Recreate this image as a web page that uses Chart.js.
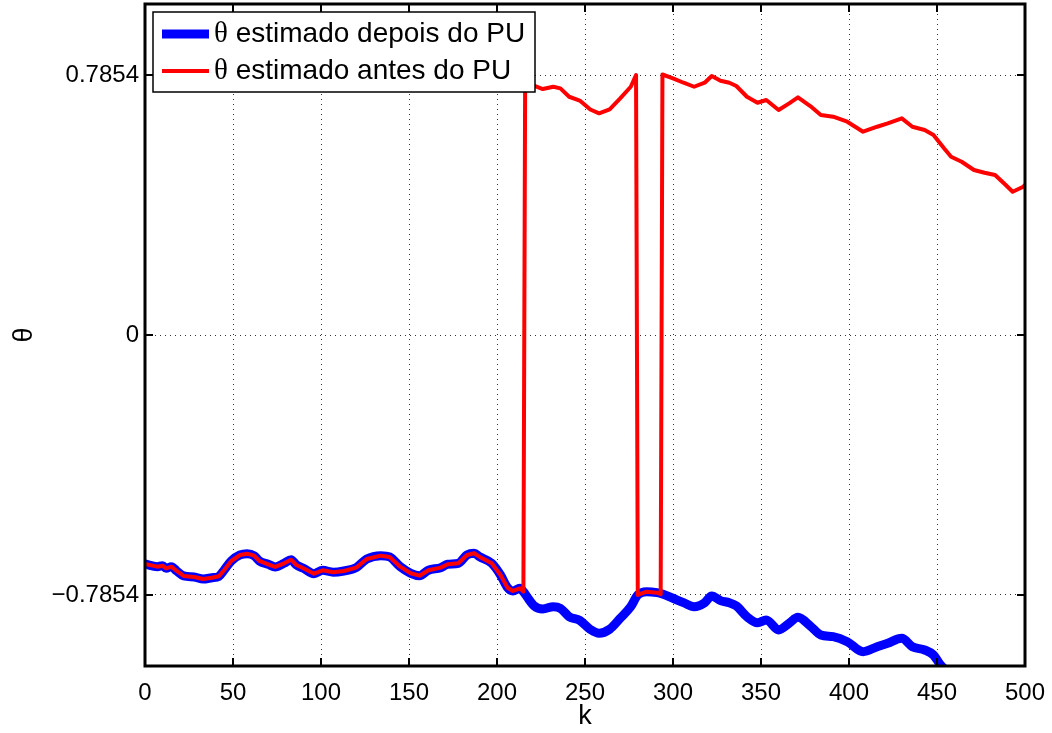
<!DOCTYPE html>
<html>
<head>
<meta charset="utf-8">
<script src="https://cdn.jsdelivr.net/npm/chart.js@4.4.0/dist/chart.umd.min.js"></script>
<style>
  html, body { margin: 0; padding: 0; background: #fff; }
  #wrap { width: 1052px; height: 733px; }
</style>
</head>
<body>
<div id="wrap"><canvas id="thetaChart" width="1052" height="733"></canvas></div>
<script>
    // Данные
    const kDepois = [0, 7, 10, 12, 15, 18, 22, 28, 33, 38, 42, 45, 49, 54, 58, 62, 65, 70, 74, 79,
        83, 86, 90, 96, 101, 107, 113, 120, 126, 134, 139, 145, 151, 156, 161, 168, 172, 178, 183, 187,
        190, 197, 202, 206, 209, 213, 215, 217, 221, 226, 232, 236, 241, 247, 253, 258, 264, 270, 276, 280,
        285, 291, 294, 300, 306, 312, 318, 322, 327, 332, 336, 342, 348, 353, 360, 366, 371, 378, 384, 391,
        399, 408, 416, 422, 430, 436, 443, 448, 452, 456];
    const thetaDepois = [-0.6918, -0.6999, -0.6969, -0.7048, -0.6999, -0.7129, -0.7280, -0.7310, -0.7371, -0.7332,
        -0.7289, -0.7099, -0.6827, -0.6646, -0.6607, -0.6667, -0.6827, -0.6927, -0.7008, -0.6897,
        -0.6788, -0.6948, -0.7048, -0.7211, -0.7108, -0.7168, -0.7129, -0.7029, -0.6767, -0.6667,
        -0.6706, -0.6999, -0.7199, -0.7271, -0.7108, -0.7029, -0.6927, -0.6897, -0.6646, -0.6594,
        -0.6697, -0.6897, -0.7250, -0.7634, -0.7733, -0.7652, -0.7754, -0.7905, -0.8177, -0.8277,
        -0.8208, -0.8256, -0.8510, -0.8624, -0.8896, -0.9011, -0.8890, -0.8558, -0.8208, -0.7854,
        -0.7754, -0.7785, -0.7824, -0.7954, -0.8087, -0.8208, -0.8087, -0.7884, -0.8026, -0.8087,
        -0.8186, -0.8510, -0.8691, -0.8609, -0.8911, -0.8709, -0.8528, -0.8791, -0.9062, -0.9114,
        -0.9265, -0.9567, -0.9416, -0.9313, -0.9162, -0.9416, -0.9516, -0.9667, -0.9969, -1.0180];

    const kAntes = [0, 7, 10, 12, 15, 18, 22, 28, 33, 38, 42, 45, 49, 54, 58, 62, 65, 70, 74, 79,
        83, 86, 90, 96, 101, 107, 113, 120, 126, 134, 139, 145, 151, 156, 161, 168, 172, 178, 183, 187,
        190, 197, 202, 206, 209, 213, 215, 216, 221, 226, 232, 236, 241, 247, 253, 258, 264, 270, 276, 279,
        280, 285, 291, 293, 294, 300, 306, 312, 318, 322, 327, 332, 336, 342, 348, 353, 360, 366, 371, 378,
        384, 391, 399, 408, 416, 422, 430, 436, 443, 448, 454, 458, 464, 471, 477, 483, 488, 493, 499, 500];
    const thetaAntes = [-0.6918, -0.6999, -0.6969, -0.7048, -0.6999, -0.7129, -0.7280, -0.7310, -0.7371, -0.7332,
        -0.7289, -0.7099, -0.6827, -0.6646, -0.6607, -0.6667, -0.6827, -0.6927, -0.7008, -0.6897,
        -0.6788, -0.6948, -0.7048, -0.7211, -0.7108, -0.7168, -0.7129, -0.7029, -0.6767, -0.6667,
        -0.6706, -0.6999, -0.7199, -0.7271, -0.7108, -0.7029, -0.6927, -0.6897, -0.6646, -0.6594,
        -0.6697, -0.6897, -0.7250, -0.7634, -0.7733, -0.7652, -0.7754, 0.7803, 0.7531, 0.7431,
        0.7500, 0.7452, 0.7198, 0.7084, 0.6812, 0.6697, 0.6818, 0.7150, 0.7500, 0.7854,
        -0.7854, -0.7754, -0.7785, -0.7830, 0.7870, 0.7754, 0.7621, 0.7500, 0.7621, 0.7824,
        0.7682, 0.7621, 0.7522, 0.7198, 0.7017, 0.7099, 0.6797, 0.6999, 0.7180, 0.6917,
        0.6646, 0.6594, 0.6443, 0.6141, 0.6292, 0.6395, 0.6546, 0.6292, 0.6192, 0.6041,
        0.5640, 0.5386, 0.5235, 0.4984, 0.4903, 0.4833, 0.4583, 0.4329, 0.4480, 0.4531];

    const xTickValues = [0, 50, 100, 150, 200, 250, 300, 350, 400, 450, 500];
    const yTickValues = [-0.7854, 0, 0.7854];
    const yTickLabels = ['\u22120.7854', '0', '0.7854'];

    const fontFamily = '"Liberation Sans", Arial, Helvetica, sans-serif';

    function toPoints(ks, vals) {
        return ks.map((k, i) => ({ x: k, y: vals[i] }));
    }

    // Рамка в стиле MATLAB, засечки внутрь и легенда внутри области графика
    const matlabBox = {
        id: 'matlabBox',
        afterDraw(chart) {
            const { ctx, chartArea: a, scales } = chart;
            ctx.save();
            ctx.strokeStyle = '#000';
            ctx.lineWidth = 2;
            ctx.beginPath();
            scales.x.ticks.forEach(t => {
                const px = scales.x.getPixelForValue(t.value);
                ctx.moveTo(px, a.bottom); ctx.lineTo(px, a.bottom - 8);
                ctx.moveTo(px, a.top); ctx.lineTo(px, a.top + 8);
            });
            scales.y.ticks.forEach(t => {
                const py = scales.y.getPixelForValue(t.value);
                ctx.moveTo(a.left, py); ctx.lineTo(a.left + 8, py);
                ctx.moveTo(a.right, py); ctx.lineTo(a.right - 8, py);
            });
            ctx.stroke();
            ctx.lineWidth = 3;
            ctx.strokeRect(a.left, a.top, a.right - a.left, a.bottom - a.top);

            // легенда
            const lx = a.left + 8, ly = a.top + 8, lw = 382, lh = 80;
            ctx.fillStyle = '#fff';
            ctx.fillRect(lx, ly, lw, lh);
            ctx.lineWidth = 1.5;
            ctx.strokeRect(lx, ly, lw, lh);
            chart.data.datasets.forEach((ds, i) => {
                const cy = ly + 22 + i * 37;
                ctx.strokeStyle = ds.borderColor;
                ctx.lineWidth = ds.borderWidth;
                ctx.beginPath();
                ctx.moveTo(lx + 9, cy);
                ctx.lineTo(lx + 56, cy);
                ctx.stroke();
                ctx.fillStyle = '#000';
                ctx.textBaseline = 'middle';
                ctx.textAlign = 'left';
                ctx.font = '29px "Liberation Serif", serif';
                const th = ds.label.charAt(0);
                ctx.fillText(th, lx + 61, cy);
                const tw = ctx.measureText(th).width;
                ctx.font = '28px ' + fontFamily;
                ctx.fillText(ds.label.slice(1), lx + 61 + tw, cy);
            });
            ctx.restore();
        }
    };

    const thetaChart = new Chart(document.getElementById('thetaChart'), {
        type: 'line',
        data: {
            datasets: [{
                label: 'θ estimado depois do PU',
                data: toPoints(kDepois, thetaDepois),
                borderColor: '#0000ff',
                borderWidth: 9,
                pointRadius: 0,
                borderJoinStyle: 'round',
                borderCapStyle: 'round',
                cubicInterpolationMode: 'monotone',
                clip: 0,
                order: 1
            }, {
                label: 'θ estimado antes do PU',
                data: toPoints(kAntes, thetaAntes),
                borderColor: '#ff0000',
                borderWidth: 4,
                pointRadius: 0,
                borderJoinStyle: 'round',
                borderCapStyle: 'round',
                tension: 0,
                clip: 0,
                order: 0
            }]
        },
        options: {
            responsive: false,
            animation: false,
            layout: {
                padding: { left: 0, top: 4, right: 27, bottom: 0 }
            },
            plugins: {
                legend: { display: false },
                tooltip: { enabled: false }
            },
            scales: {
                x: {
                    type: 'linear',
                    min: 0,
                    max: 500,
                    afterBuildTicks: scale => {
                        scale.ticks = xTickValues.map(v => ({ value: v }));
                    },
                    afterFit: scale => {
                        scale.height = 67;
                        scale.paddingLeft = 0;
                        scale.paddingRight = 0;
                    },
                    ticks: {
                        autoSkip: false,
                        maxRotation: 0,
                        padding: 13,
                        color: '#000',
                        font: { family: fontFamily, size: 24 },
                        callback: value => String(value)
                    },
                    grid: {
                        color: '#333',
                        lineWidth: 1,
                        drawTicks: false
                    },
                    border: { display: false, dash: [1, 4] },
                    title: {
                        display: true,
                        text: 'k',
                        color: '#000',
                        padding: 0,
                        font: { family: fontFamily, size: 27 }
                    }
                },
                y: {
                    type: 'linear',
                    min: -1,
                    max: 1,
                    afterBuildTicks: scale => {
                        scale.ticks = yTickValues.map(v => ({ value: v }));
                    },
                    afterFit: scale => {
                        scale.width = 145;
                        scale.paddingTop = 0;
                        scale.paddingBottom = 0;
                    },
                    ticks: {
                        padding: 6,
                        color: '#000',
                        font: { family: fontFamily, size: 24 },
                        callback: (value, index) => yTickLabels[index]
                    },
                    grid: {
                        color: '#333',
                        lineWidth: 1,
                        drawTicks: false
                    },
                    border: { display: false, dash: [1, 4] },
                    title: {
                        display: true,
                        text: 'θ',
                        color: '#000',
                        padding: { top: 8, bottom: 0 },
                        font: { family: fontFamily, size: 27 }
                    }
                }
            }
        },
        plugins: [matlabBox]
    });
</script>
</body>
</html>
